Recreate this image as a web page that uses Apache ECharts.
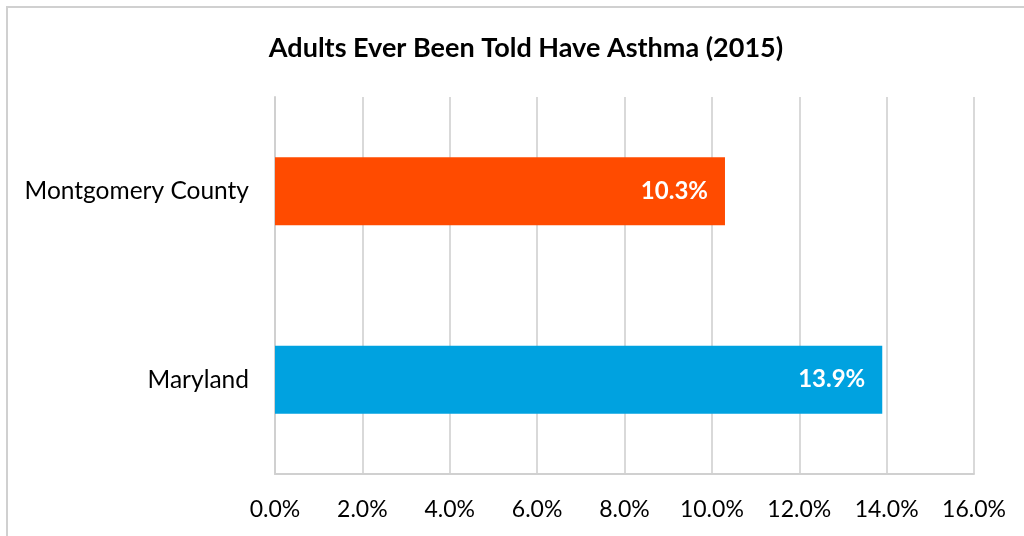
<!DOCTYPE html>
<html>
<head>
<meta charset="utf-8">
<script src="https://cdn.jsdelivr.net/npm/echarts@6/dist/echarts.min.js"></script>
<style>
  html, body { margin: 0; padding: 0; background: #fff; }
  #main { width: 1024px; height: 536px; }
</style>
</head>
<body>
<div id="main"></div>
<script>
var categories = ['Montgomery County', 'Maryland'];
var values = [10.3, 13.9];
var barColors = ['#FF4B00', '#00A2E0'];
var tickMax = 16;
var tickStep = 2;

var myChart = echarts.init(document.getElementById('main'));

var font = 'Lato, "Open Sans", sans-serif';

myChart.setOption({
    animation: false,
    backgroundColor: '#fff',
    graphic: [{
        type: 'rect',
        shape: {x: 7, y: 7, width: 1040, height: 560},
        style: {fill: 'none', stroke: '#d0d0d0', lineWidth: 2}
    }],
    title: {
        text: 'Adults Ever Been Told Have Asthma (2015)',
        left: 521,
        top: 30,
        textAlign: 'center',
        textStyle: {fontFamily: font, fontWeight: 'bold', fontSize: 27, color: '#000'}
    },
    grid: {left: 275, right: 50, top: 97, bottom: 62},
    xAxis: {
        type: 'value',
        min: 0,
        max: tickMax,
        interval: tickStep,
        axisLine: {show: true, lineStyle: {color: '#d0d0d0', width: 2}},
        axisTick: {show: false},
        splitLine: {show: true, lineStyle: {color: '#d9d9d9', width: 2}},
        axisLabel: {
            margin: 24,
            fontFamily: font,
            fontSize: 23,
            color: '#000',
            formatter: function (v) { return v.toFixed(1) + '%'; }
        }
    },
    yAxis: {
        type: 'category',
        inverse: true,
        data: categories,
        axisLine: {show: true, lineStyle: {color: '#d0d0d0', width: 2}},
        axisTick: {show: false},
        axisLabel: {margin: 26, fontFamily: font, fontSize: 24.5, color: '#000'}
    },
    series: [{
        type: 'bar',
        barWidth: '36%',
        data: values.map(function (v, i) {
            return {value: v, itemStyle: {color: barColors[i]}};
        }),
        label: {
            show: true,
            position: 'insideRight',
            distance: 17,
            fontFamily: font,
            fontWeight: 'bold',
            fontSize: 24,
            color: '#fff',
            formatter: function (p) { return p.value.toFixed(1) + '%'; }
        }
    }]
});
</script>
</body>
</html>
